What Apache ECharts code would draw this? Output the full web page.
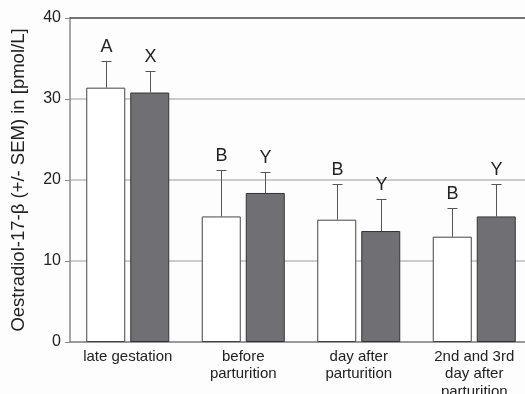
<!DOCTYPE html>
<html>
<head>
<meta charset="utf-8">
<script src="https://cdn.jsdelivr.net/npm/echarts@6/dist/echarts.min.js"></script>
<style>
  html, body { margin: 0; padding: 0; background: #fdfdfd; }
  #chart { width: 525px; height: 394px; }
</style>
</head>
<body>
<div id="chart"></div>
<script>
// Sampling periods
const categories = ['late gestation', 'before\nparturition', 'day after\nparturition', '2nd and 3rd\nday after\nparturition'];
// Group means (pmol/L)
const whiteMeans = [31.4, 15.5, 15.1, 13.0];
const greyMeans = [30.8, 18.4, 13.7, 15.5];
// Upper end of mean + SEM
const whiteUpper = [34.7, 21.2, 19.5, 16.5];
const greyUpper = [33.4, 21.0, 17.6, 19.5];
// Significance letters
const whiteLetters = ['A', 'B', 'B', 'B'];
const greyLetters = ['X', 'Y', 'Y', 'Y'];
const yTicks = [0, 10, 20, 30, 40];

const FONT = '"Liberation Sans", Arial, sans-serif';
const BAR_W = 39;
const BAR_GAP = 5;
const HALF_SHIFT = (BAR_W + BAR_GAP) / 2;

function errorSeries(means, uppers, letters, side) {
  return {
    type: 'custom',
    z: 5,
    data: means.map((m, i) => [i, m, uppers[i], letters[i]]),
    renderItem: function (params, api) {
      const i = api.value(0);
      const base = api.coord([i, api.value(1)]);
      const top = api.coord([i, api.value(2)]);
      const x = Math.round(base[0] + side * HALF_SHIFT) + 0.5;
      const capHalf = 5;
      return {
        type: 'group',
        children: [
          { type: 'line', shape: { x1: x, y1: base[1], x2: x, y2: top[1] },
            style: { stroke: '#555', lineWidth: 1 } },
          { type: 'line', shape: { x1: x - capHalf, y1: Math.round(top[1]) + 0.5, x2: x + capHalf, y2: Math.round(top[1]) + 0.5 },
            style: { stroke: '#555', lineWidth: 1 } },
          { type: 'text', x: x, y: top[1] - 5,
            style: { text: api.value(3), fill: '#222', font: '18px ' + FONT, align: 'center', verticalAlign: 'bottom' } }
        ]
      };
    }
  };
}

const chart = echarts.init(document.getElementById('chart'), null, { renderer: 'canvas' });
chart.setOption({
  animation: false,
  backgroundColor: '#fdfdfd',
  grid: { left: 70, right: -7, top: 18, bottom: 52, outerBoundsMode: 'none', containLabel: false },
  xAxis: [{
    type: 'category',
    data: categories,
    axisLine: { lineStyle: { color: '#888', width: 1.5 } },
    axisTick: { alignWithLabel: true, length: 5, lineStyle: { color: '#888' } },
    axisLabel: { color: '#222', fontSize: 15, fontFamily: FONT, lineHeight: 17.5, margin: 6, interval: 0 }
  }, {
    type: 'category',
    position: 'top',
    data: categories,
    axisLine: { lineStyle: { color: '#555', width: 1.5 } },
    axisTick: { show: false },
    axisLabel: { show: false }
  }],
  yAxis: {
    type: 'value',
    min: yTicks[0],
    max: yTicks[yTicks.length - 1],
    interval: 10,
    name: 'Oestradiol-17-β (+/- SEM) in [pmol/L]',
    nameLocation: 'middle',
    nameGap: 42,
    nameTextStyle: { color: '#222', fontSize: 18.5, fontFamily: FONT },
    axisLine: { show: true, lineStyle: { color: '#888', width: 1.5 } },
    axisTick: { show: true, length: 5, lineStyle: { color: '#888' } },
    axisLabel: { color: '#222', fontSize: 16, fontFamily: FONT, margin: 9 },
    splitLine: { lineStyle: { color: '#bbb', width: 1.5 } }
  },
  series: [
    {
      type: 'bar',
      data: whiteMeans,
      barWidth: BAR_W,
      barGap: (BAR_GAP / BAR_W * 100) + '%',
      itemStyle: { color: '#ffffff', borderColor: '#444', borderWidth: 1 }
    },
    {
      type: 'bar',
      data: greyMeans,
      barWidth: BAR_W,
      itemStyle: { color: '#707074', borderColor: '#333', borderWidth: 1 }
    },
    errorSeries(whiteMeans, whiteUpper, whiteLetters, -1),
    errorSeries(greyMeans, greyUpper, greyLetters, 1)
  ]
});
</script>
</body>
</html>
